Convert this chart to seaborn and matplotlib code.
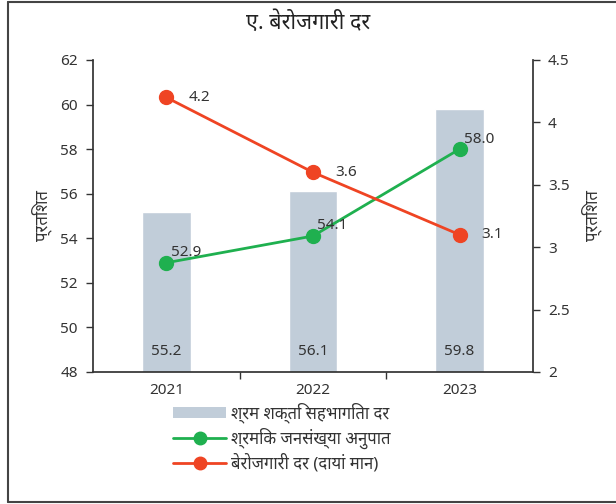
import matplotlib
matplotlib.use("Agg")
import matplotlib.pyplot as plt
import seaborn as sns
import pandas as pd
from matplotlib.lines import Line2D
from matplotlib.patches import Patch

# data
years = ["2021", "2022", "2023"]
lfpr = [55.2, 56.1, 59.8]          # bars, left axis
wpr = [52.9, 54.1, 58.0]           # green line, left axis
unemp = [4.2, 3.6, 3.1]            # red line, right axis

title = "ए. बेरोजगारी दर"
ylab = "प्रतिशत"
leg_labels = ["श्रम शक्ति सहभागिता दर", "श्रमिक जनसंख्या अनुपात", "बेरोजगारी दर (दायां मान)"]

bar_col = "#c1cdd9"
green = "#1fb04f"
red = "#ef4423"
txt = "#333333"

sns.set_theme(style="white")
plt.rcParams["font.family"] = ["Noto Sans", "DejaVu Sans"]

df = pd.DataFrame({"year": years, "lfpr": lfpr, "wpr": wpr, "unemp": unemp})

fig = plt.figure(figsize=(6.16, 5.04), dpi=100)
ax = fig.add_axes([0.151, 0.262, 0.714, 0.619])

sns.barplot(data=df, x="year", y="lfpr", color=bar_col, width=0.33,
            saturation=1, ax=ax)
ax.plot(range(3), wpr, color=green, lw=2, marker="o", ms=10, zorder=3)
ax.set_ylim(48, 62)
ax.set_yticks(range(48, 63, 2))
ax.set_xlim(-0.5, 2.5)

ax2 = ax.twinx()
ax2.plot(range(3), unemp, color=red, lw=2, marker="o", ms=10, zorder=3)
ax2.set_ylim(2, 4.5)
ax2.set_yticks([2, 2.5, 3, 3.5, 4, 4.5])
ax2.set_yticklabels(["2", "2.5", "3", "3.5", "4", "4.5"])

# value labels
for i, v in enumerate(lfpr):
    ax.text(i, 48.9, f"{v:.1f}", ha="center", va="center", fontsize=11, color=txt)
for i, v in enumerate(wpr):
    ax.text(i + 0.03, v + 0.45, f"{v:.1f}", ha="left", va="center", fontsize=11, color=txt)
for i, v in enumerate(unemp):
    ax2.text(i + 0.15, v, f"{v:.1f}", ha="left", va="center", fontsize=11, color=txt)

for a in (ax, ax2):
    a.spines["top"].set_visible(False)
    a.spines["left"].set_color("#333333")
    a.spines["right"].set_color("#333333")
    a.spines["bottom"].set_color("#333333")
ax.spines["right"].set_visible(False)
ax2.spines["left"].set_visible(False)
ax2.spines["bottom"].set_visible(False)

ax.tick_params(axis="y", direction="out", length=5, width=1, color="#333333",
               left=True, labelsize=11, labelcolor=txt, pad=6)
ax2.tick_params(axis="y", direction="out", length=5, width=1, color="#333333",
                right=True, labelsize=11, labelcolor=txt, pad=6)
# x ticks sit between categories, labels at categories
ax.set_xticks([0, 1, 2])
ax.set_xticklabels(years)
ax.set_xticks([0.5, 1.5], minor=True)
ax.tick_params(axis="x", which="major", length=0, labelsize=11, labelcolor=txt, pad=8)
ax.tick_params(axis="x", which="minor", bottom=True, direction="out", length=5,
               width=1, color="#333333")

ax.set_xlabel("")
ax.set_ylabel(ylab, fontsize=12, color=txt, labelpad=6)
ax2.set_ylabel(ylab, fontsize=12, color=txt, labelpad=8)

fig.text(0.5, 0.955, title, ha="center", va="center", fontsize=15.5,
         fontweight="bold", color="#222222")

handles = [
    Patch(facecolor=bar_col, edgecolor="none"),
    Line2D([0], [0], color=green, lw=2, marker="o", ms=9),
    Line2D([0], [0], color=red, lw=2, marker="o", ms=9),
]
fig.legend(handles, leg_labels, loc="upper left", bbox_to_anchor=(0.27, 0.215),
           frameon=False, fontsize=12, handlelength=3.2, handletextpad=0.3,
           labelspacing=0.3, borderaxespad=0, labelcolor=txt)

# outer frame of the figure
for xs, ys in (([0.013, 0.013], [0.004, 0.996]),
               ([0.013, 1.0], [0.996, 0.996]),
               ([0.013, 1.0], [0.004, 0.004])):
    fig.add_artist(Line2D(xs, ys, transform=fig.transFigure, color="#444444", lw=1.5))

fig.savefig("out.png", dpi=100)
